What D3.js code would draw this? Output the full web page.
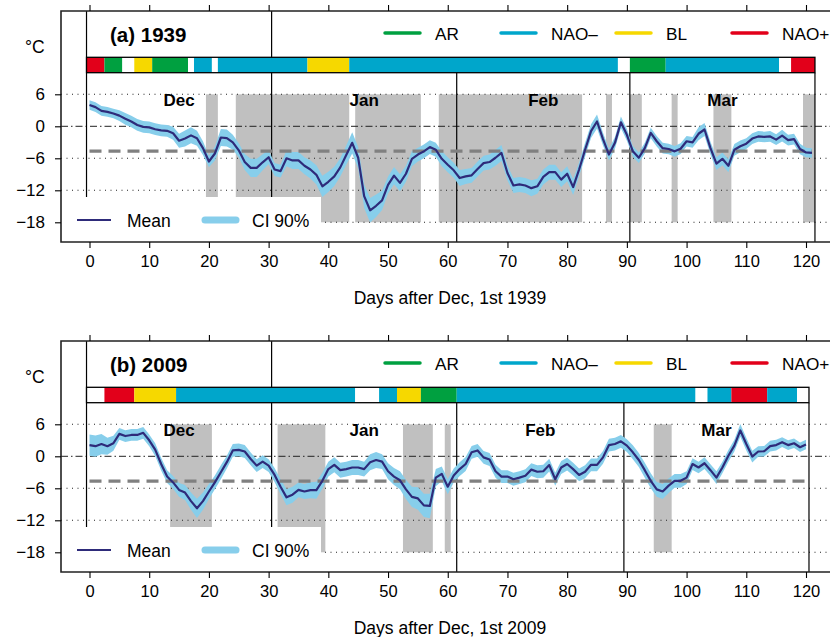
<!DOCTYPE html>
<html>
<head>
<meta charset="utf-8">
<script src="https://cdn.jsdelivr.net/npm/d3@7"></script>
<style>
  body { margin: 0; background: #fff; }
  svg { display: block; font-family: "Liberation Sans", Arial, Helvetica, sans-serif; }
</style>
</head>
<body>
<svg id="chart" width="830" height="637"></svg>
<script>
// regime colours and legend order
var regimeNames = ["AR", "NAO\u2013", "BL", "NAO+"];
var regimeColors = {"AR": "#00a040", "NAO\u2013": "#00a6cb", "BL": "#f6d800", "NAO+": "#e2001a", "none": "#ffffff"};

var monthNames = ["Dec", "Jan", "Feb", "Mar"];
var monthDays1939 = [31, 31, 29, 31];
var monthDays2009 = [31, 31, 28, 31];

var xTicks = [0, 10, 20, 30, 40, 50, 60, 70, 80, 90, 100, 110, 120];
var yTicks = [6, 0, -6, -12, -18];
var threshold = -4.65;

// 1939-40 winter, mean temperature anomaly (deg C), day 0..121
var mean1939 = [4.0, 3.6, 2.9, 2.7, 2.4, 2.0, 1.4, 0.9, 0.25, -0.1,
  -0.2, -0.55, -0.75, -0.85, -1.3, -2.7, -2.3, -1.7, -2.25, -4.1,
  -6.6, -5.1, -2.1, -2.2, -3.0, -4.5, -6.7, -7.8, -7.8, -6.75,
  -5.8, -8.1, -8.4, -6.0, -6.4, -6.4, -7.4, -8.1, -9.1, -11.25,
  -10.4, -9.4, -7.7, -5.4, -3.1, -5.9, -13.1, -15.75, -14.9, -13.9,
  -11.0, -9.25, -10.6, -8.9, -6.1, -5.3, -4.7, -3.9, -4.4, -6.1,
  -7.2, -8.25, -9.7, -9.4, -9.2, -8.0, -6.9, -6.7, -5.9, -5.0,
  -8.75, -11.1, -10.9, -11.1, -11.6, -11.25, -9.5, -8.6, -8.6, -10.0,
  -8.9, -11.4, -8.1, -4.4, -0.9, 0.9, -2.4, -5.3, -3.1, 0.75,
  -1.6, -4.7, -5.9, -4.1, -1.25, -2.8, -4.1, -4.25, -4.7, -4.2,
  -2.8, -3.0, -1.4, -0.6, -4.1, -7.0, -6.1, -7.4, -4.4, -3.75,
  -3.25, -2.3, -1.9, -2.0, -1.9, -2.5, -1.75, -2.6, -2.4, -4.25,
  -4.9, -5.0];
// half width of the 90% confidence band
var ci1939 = [0.9, 0.9, 0.9, 0.9, 0.9, 1.0, 1.1, 1.1, 1.1, 1.1,
  1.1, 1.1, 1.1, 1.1, 1.2, 1.3, 1.5, 1.5, 1.4, 1.3,
  1.1, 1.3, 1.6, 1.6, 1.4, 1.3, 1.5, 1.7, 1.7, 1.5,
  1.3, 1.2, 1.2, 1.5, 1.6, 1.6, 1.6, 1.7, 1.8, 2.0,
  1.9, 1.8, 1.7, 1.8, 2.0, 2.0, 2.2, 2.3, 2.1, 1.8,
  1.6, 1.6, 1.6, 1.5, 1.4, 1.3, 1.3, 1.3, 1.3, 1.4,
  1.4, 1.4, 1.5, 1.4, 1.4, 1.4, 1.4, 1.4, 1.5, 1.5,
  1.4, 1.4, 1.4, 1.4, 1.5, 1.4, 1.4, 1.4, 1.4, 1.4,
  1.4, 1.5, 1.3, 1.3, 1.3, 1.3, 1.2, 1.1, 1.1, 1.1,
  1.1, 1.0, 1.0, 1.0, 1.0, 1.0, 1.0, 1.0, 1.0, 1.0,
  1.0, 1.0, 1.2, 1.2, 1.2, 1.2, 1.2, 1.2, 1.1, 1.1,
  1.0, 1.0, 1.0, 1.0, 1.0, 1.0, 1.1, 1.0, 1.0, 1.0,
  0.9, 0.9];

// 2009-10 winter, day 0..120
var mean2009 = [2.1, 1.9, 2.3, 1.9, 2.45, 4.2, 3.8, 4.0, 4.0, 4.4,
  3.0, 1.25, -1.45, -3.8, -4.9, -6.3, -6.8, -8.4, -9.75, -8.4,
  -6.6, -4.9, -3.0, -1.1, 1.1, 1.2, 0.9, -0.5, -1.75, -1.0,
  -1.75, -3.5, -5.7, -7.7, -7.2, -6.3, -6.6, -6.35, -6.35, -4.6,
  -2.4, -1.6, -2.6, -2.4, -2.1, -2.1, -2.4, -1.1, -0.7, -1.0,
  -2.8, -3.8, -4.5, -6.2, -7.6, -7.9, -9.2, -9.3, -4.0, -3.3,
  -5.7, -3.6, -2.4, -1.45, 0.75, 1.1, -0.2, -0.6, -2.8, -3.8,
  -3.8, -4.3, -4.0, -3.65, -2.5, -2.9, -2.8, -1.65, -4.3, -2.1,
  -1.45, -2.4, -3.5, -2.9, -1.6, -1.6, -0.2, 2.1, 2.3, 2.8,
  2.0, 0.75, -0.7, -2.6, -4.6, -6.2, -6.6, -5.5, -4.6, -4.6,
  -4.0, -1.45, -2.1, -1.3, -2.6, -4.0, -2.1, 0.1, 2.0, 4.85,
  2.3, -0.05, 0.9, 0.95, 1.9, 2.1, 2.65, 2.1, 2.45, 1.7,
  2.2];
var ci2009 = [2.0, 2.0, 1.9, 1.6, 1.4, 1.1, 1.1, 1.1, 1.1, 1.1,
  1.1, 1.2, 1.2, 1.2, 1.2, 1.3, 1.4, 1.6, 1.8, 1.6,
  1.4, 1.3, 1.3, 1.2, 1.2, 1.2, 1.2, 1.2, 1.2, 1.2,
  1.2, 1.3, 1.4, 1.5, 1.5, 1.4, 1.4, 1.5, 1.6, 1.5,
  1.4, 1.4, 1.4, 1.4, 1.4, 1.4, 1.4, 1.5, 1.5, 1.4,
  1.5, 1.6, 1.7, 1.8, 1.9, 2.1, 2.2, 2.3, 1.6, 1.4,
  1.4, 1.3, 1.3, 1.3, 1.2, 1.2, 1.2, 1.2, 1.2, 1.2,
  1.2, 1.2, 1.2, 1.2, 1.2, 1.2, 1.2, 1.2, 1.2, 1.2,
  1.2, 1.2, 1.2, 1.2, 1.2, 1.2, 1.2, 1.2, 1.2, 1.2,
  1.2, 1.3, 1.3, 1.4, 1.4, 1.4, 1.4, 1.4, 1.3, 1.3,
  1.2, 1.1, 1.1, 1.1, 1.1, 1.2, 1.1, 1.1, 1.1, 1.2,
  1.2, 1.1, 1.0, 1.0, 1.0, 1.0, 0.9, 0.9, 0.9, 0.9,
  0.9];

// weather regime sequence, [regime, number of days]
var regimes1939 = [["NAO+", 3], ["AR", 3], ["none", 2], ["BL", 3], ["AR", 6], ["none", 1],
  ["NAO\u2013", 3], ["none", 1], ["NAO\u2013", 15], ["BL", 7], ["NAO\u2013", 45], ["none", 2],
  ["AR", 6], ["NAO\u2013", 19], ["none", 2], ["NAO+", 4]];
var regimes2009 = [["none", 3], ["NAO+", 5], ["BL", 7], ["NAO\u2013", 30], ["none", 4],
  ["NAO\u2013", 3], ["BL", 4], ["AR", 6], ["NAO\u2013", 40], ["none", 2], ["NAO\u2013", 4],
  ["NAO+", 6], ["NAO\u2013", 5], ["none", 2]];

// cold spell periods (first day, last day)
var spells1939 = [[20, 21], [25, 43], [45, 55], [59, 82], [87, 87], [91, 92], [98, 98], [105, 107], [120, 121]];
var spells2009 = [[14, 20], [32, 39], [53, 57], [60, 60], [95, 97]];

var svg = d3.select("#chart");
var x = d3.scaleLinear().domain([0, 120]).range([89.5, 806]);
var y = d3.scaleLinear().domain([-18, 6]).range([222.3, 94.3]);

var frameL = 61, frameT = 11, frameB = 242, frameR = 840;
var barT = 57.3, barB = 72.7;
var legR = 321, legT = 197;

function drawPanel(offset, title, year, mean, ci, regimes, spells, monthDays) {
  var g = svg.append("g").attr("transform", "translate(0," + offset + ")");
  var nDays = mean.length;

  // month bounds
  var bounds = [-0.5];
  monthDays.forEach(function(m) { bounds.push(bounds[bounds.length - 1] + m); });

  // cold spells
  g.selectAll(".spell")
    .data(spells)
    .join("rect")
      .attr("x", d => x(d[0] - 0.5))
      .attr("width", d => x(d[1] + 0.5) - x(d[0] - 0.5))
      .attr("y", y(6))
      .attr("height", y(-18) - y(6))
      .attr("fill", "#c0c0c0");

  // grid lines
  g.selectAll(".grid")
    .data(yTicks)
    .join("line")
      .attr("x1", frameL).attr("x2", frameR)
      .attr("y1", d => y(d)).attr("y2", d => y(d))
      .attr("stroke", "#222")
      .attr("stroke-width", d => d == 0 ? 1 : 1.1)
      .attr("stroke-dasharray", d => d == 0 ? "7,3,1.5,3" : "1,4.5");

  // month lines
  g.selectAll(".month")
    .data(bounds)
    .join("line")
      .attr("x1", d => x(d)).attr("x2", d => x(d))
      .attr("y1", (d, i) => i < 2 ? frameT : barB)
      .attr("y2", (d, i) => i == 0 ? legT : frameB)
      .attr("stroke", "#000")
      .attr("stroke-width", 1.2);

  // confidence band
  var area = d3.area()
    .x((d, i) => x(i))
    .y0((d, i) => y(d - ci[i]))
    .y1((d, i) => y(d + ci[i]));
  g.append("path")
    .datum(mean)
    .attr("d", area)
    .attr("fill", "#87ceeb");

  // threshold
  g.append("line")
    .attr("x1", x(0)).attr("x2", x(nDays - 1))
    .attr("y1", y(threshold)).attr("y2", y(threshold))
    .attr("stroke", "#808080")
    .attr("stroke-width", 3.2)
    .attr("stroke-dasharray", "12,7");

  // mean
  var line = d3.line().x((d, i) => x(i)).y(d => y(d));
  g.append("path")
    .datum(mean)
    .attr("d", line)
    .attr("fill", "none")
    .attr("stroke", "#2e2b7a")
    .attr("stroke-width", 2.2)
    .attr("stroke-linejoin", "round");

  // legend box
  g.append("rect")
    .attr("x", frameL).attr("y", legT)
    .attr("width", legR - frameL).attr("height", frameB - legT)
    .attr("fill", "#fff");
  g.append("line")
    .attr("x1", 77).attr("x2", 111).attr("y1", 220).attr("y2", 220)
    .attr("stroke", "#2e2b7a").attr("stroke-width", 2.2);
  g.append("text").attr("x", 127).attr("y", 227)
    .attr("font-size", 17.5).text("Mean");
  g.append("line")
    .attr("x1", 205).attr("x2", 236).attr("y1", 220).attr("y2", 220)
    .attr("stroke", "#87ceeb").attr("stroke-width", 7).attr("stroke-linecap", "round");
  g.append("text").attr("x", 252).attr("y", 227)
    .attr("font-size", 17.5).text("CI 90%");

  // regime bar
  var start = -0.5;
  var segs = regimes.map(function(r) {
    var s = {code: r[0], a: start, b: start + r[1]};
    start += r[1];
    return s;
  });
  g.selectAll(".reg")
    .data(segs)
    .join("rect")
      .attr("x", d => x(d.a))
      .attr("width", d => x(d.b) - x(d.a))
      .attr("y", barT)
      .attr("height", barB - barT)
      .attr("fill", d => regimeColors[d.code]);
  g.append("rect")
    .attr("x", x(-0.5)).attr("y", barT)
    .attr("width", x(start) - x(-0.5)).attr("height", barB - barT)
    .attr("fill", "none").attr("stroke", "#000").attr("stroke-width", 1.3);

  // regime legend
  var legX = [385, 501, 616, 732];
  regimeNames.forEach(function(n, i) {
    g.append("line")
      .attr("x1", legX[i]).attr("x2", legX[i] + 35)
      .attr("y1", 33).attr("y2", 33)
      .attr("stroke", regimeColors[n]).attr("stroke-width", 3.5)
      .attr("stroke-linecap", "round");
    g.append("text")
      .attr("x", legX[i] + 50).attr("y", 40)
      .attr("font-size", 17.2).text(n);
  });

  // month labels
  g.selectAll(".mlab")
    .data(monthNames)
    .join("text")
      .attr("x", (d, i) => x((bounds[i] + bounds[i + 1]) / 2))
      .attr("y", 106)
      .attr("text-anchor", "middle")
      .attr("font-size", 17)
      .attr("font-weight", "bold")
      .text(d => d);

  // frame
  g.append("path")
    .attr("d", "M" + frameR + "," + frameT + "H" + frameL + "V" + frameB + "H" + frameR)
    .attr("fill", "none").attr("stroke", "#222").attr("stroke-width", 1.6);

  // axes
  var xAxis = g.append("g")
    .attr("transform", "translate(0," + frameB + ")")
    .call(d3.axisBottom(x).tickValues(xTicks).tickSize(6).tickPadding(7));
  xAxis.select(".domain").remove();
  xAxis.selectAll("text").attr("font-size", 16.5).attr("font-family", null);
  xAxis.selectAll("line").attr("stroke-width", 1.1);

  var topAxis = g.append("g")
    .attr("transform", "translate(0," + frameT + ")")
    .call(d3.axisTop(x).tickValues(xTicks).tickSize(6).tickFormat(""));
  topAxis.select(".domain").remove();
  topAxis.selectAll("line").attr("stroke-width", 1.1);

  var yAxis = g.append("g")
    .attr("transform", "translate(" + frameL + ",0)")
    .call(d3.axisLeft(y).tickValues(yTicks).tickSize(6).tickPadding(10)
      .tickFormat(d => d < 0 ? "\u2212" + Math.abs(d) : d));
  yAxis.select(".domain").remove();
  yAxis.selectAll("text").attr("font-size", 17).attr("font-family", null);
  yAxis.selectAll("line").attr("stroke-width", 1.1);

  // titles
  g.append("text").attr("x", 25).attr("y", 53).attr("font-size", 17.5).text("\u00b0C");
  g.append("text").attr("x", 110).attr("y", 42)
    .attr("font-size", 20.5).attr("font-weight", "bold").text(title);
  g.append("text")
    .attr("x", 450).attr("y", 304)
    .attr("text-anchor", "middle")
    .attr("font-size", 17.5)
    .text("Days after Dec, 1st " + year);
}

drawPanel(0, "(a) 1939", "1939", mean1939, ci1939, regimes1939, spells1939, monthDays1939);
drawPanel(330, "(b) 2009", "2009", mean2009, ci2009, regimes2009, spells2009, monthDays2009);
</script>
</body>
</html>
